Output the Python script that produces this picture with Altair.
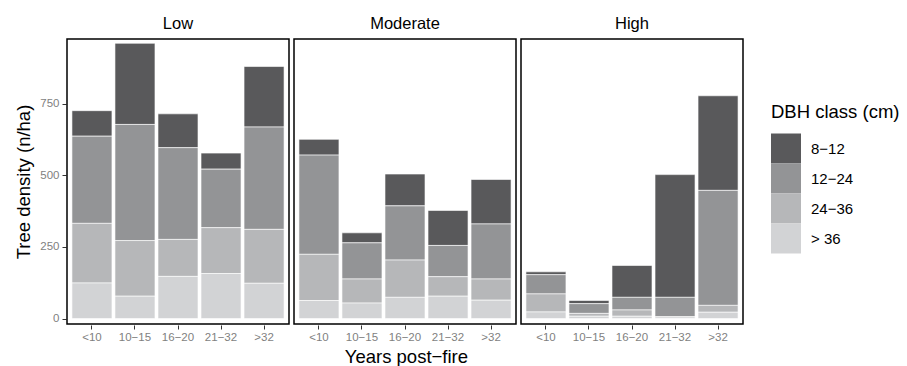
import altair as alt
import pandas as pd

severity = ["Low", "Moderate", "High"]
years = ["<10", "10−15", "16−20", "21−32", ">32"]
classes = ["8−12", "12−24", "24−36", "> 36"]
colors = ["#59595b", "#939496", "#b6b7b9", "#d2d3d5"]

# values per DBH class, for each severity, in the order of `years`
low_8_12 = [89, 283, 118, 56, 211]
low_12_24 = [304, 405, 320, 204, 357]
low_24_36 = [208, 194, 129, 160, 188]
low_gt36 = [124, 78, 147, 157, 123]

mod_8_12 = [55, 35, 111, 122, 155]
mod_12_24 = [346, 126, 189, 109, 192]
mod_24_36 = [161, 84, 130, 68, 74]
mod_gt36 = [63, 54, 74, 78, 64]

high_8_12 = [10, 11, 111, 428, 330]
high_12_24 = [67, 34, 44, 67, 401]
high_24_36 = [63, 10, 22, 5, 24]
high_gt36 = [23, 8, 8, 2, 22]

series = {
    "Low": [low_8_12, low_12_24, low_24_36, low_gt36],
    "Moderate": [mod_8_12, mod_12_24, mod_24_36, mod_gt36],
    "High": [high_8_12, high_12_24, high_24_36, high_gt36],
}

rows = []
for sev in severity:
    for ci, cls in enumerate(classes):
        for yi, yr in enumerate(years):
            rows.append({"severity": sev, "years": yr, "dbh": cls,
                         "density": series[sev][ci][yi], "ord": 3 - ci})
df = pd.DataFrame(rows)

FONT = "Liberation Sans"

base = alt.Chart(df).mark_bar(stroke="white", strokeWidth=0.6).encode(
    x=alt.X("years:N", sort=years,
            scale=alt.Scale(paddingInner=0.07, paddingOuter=0.115),
            axis=alt.Axis(title=None, labelAngle=0, labelColor="#7f7f7f",
                          labelFontSize=11.5, labelFont=FONT, tickColor="#333333",
                          tickSize=4, domain=False, labelPadding=2)),
    y=alt.Y("density:Q",
            scale=alt.Scale(domain=[-19, 975], nice=False, zero=False),
            axis=alt.Axis(values=[0, 250, 500, 750], title="Tree density (n/ha)",
                          titleFontSize=18.5, titleFont=FONT, titleFontWeight="normal",
                          titleColor="black", labelColor="#7f7f7f", labelFontSize=11.5,
                          labelFont=FONT, tickColor="#333333", tickSize=4,
                          domain=False, grid=False, labelPadding=3, titlePadding=6)),
    color=alt.Color("dbh:N", scale=alt.Scale(domain=classes, range=colors),
                    legend=alt.Legend(title="DBH class (cm)", titleFontSize=18.5,
                                      titleFont=FONT, titleFontWeight="normal",
                                      titleColor="black", labelFontSize=15,
                                      labelFont=FONT, labelColor="black",
                                      symbolType="square", symbolSize=900,
                                      symbolStrokeWidth=0, symbolOpacity=1,
                                      rowPadding=0, labelOffset=10,
                                      titlePadding=12, orient="none",
                                      legendX=704, legendY=64)),
    order=alt.Order("ord:Q"),
).properties(width=222, height=285)

chart = base.facet(
    column=alt.Column("severity:N", sort=severity,
                      header=alt.Header(title=None, labelFontSize=16.5,
                                        labelFont=FONT, labelColor="black",
                                        labelPadding=6)),
    spacing=3,
).properties(
    title=alt.TitleParams("Years post−fire", orient="bottom", fontSize=18.5,
                          font=FONT, fontWeight="normal", color="black",
                          anchor="middle", offset=5, dx=-51),
).configure(
    padding={"left": 14, "top": 15, "right": 5, "bottom": 0}
).configure_view(stroke="black", strokeWidth=1.5)

chart.save("out.html", embed_options={"renderer": "svg", "actions": False})
